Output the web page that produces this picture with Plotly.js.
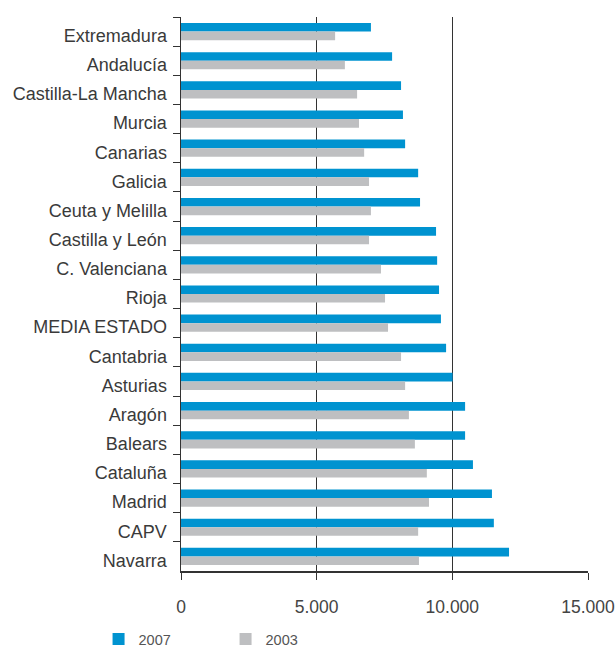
<!DOCTYPE html>
<html><head><meta charset="utf-8">
<script src="https://cdn.plot.ly/plotly-3.0.1.min.js"></script>
<style>html,body{margin:0;padding:0;background:#fff;}#chart{width:616px;height:649px;}</style>
</head><body><div id="chart"></div>
<script>
const regions = ["Extremadura","Andalucía","Castilla-La Mancha","Murcia","Canarias","Galicia","Ceuta y Melilla","Castilla y León","C. Valenciana","Rioja","MEDIA ESTADO","Cantabria","Asturias","Aragón","Balears","Cataluña","Madrid","CAPV","Navarra"];
const values2007 = [7000,7780,8110,8180,8260,8740,8810,9400,9440,9510,9580,9770,10010,10470,10470,10760,11460,11530,12090];
const values2003 = [5680,6040,6490,6560,6750,6930,7000,6930,7370,7520,7630,8110,8260,8400,8620,9060,9140,8740,8770];
const xTicks = [0,5000,10000,15000];
const xTickText = ["0","5.000","10.000","15.000"];

const data = [
  {type:'bar', orientation:'h', name:'2007', y:regions, x:values2007, marker:{color:'#0093d0'}},
  {type:'bar', orientation:'h', name:'2003', y:regions, x:values2003, marker:{color:'#bebfc1'}}
];
const layout = {
  width:616, height:649,
  margin:{l:181, r:28, t:17, b:78, autoexpand:false},
  paper_bgcolor:'#fff', plot_bgcolor:'#fff',
  barmode:'group', bargap:0.41, bargroupgap:0,
  font:{family:'Liberation Sans, Arial, sans-serif', color:'#333'},
  showlegend:true,
  legend:{orientation:'h', xref:'container', yref:'container', x:0.16, xanchor:'left', y:0.04, yanchor:'top',
          font:{size:14.5, color:'#555'}, entrywidth:82, entrywidthmode:'pixels', itemwidth:30, traceorder:'normal',
          bgcolor:'rgba(0,0,0,0)'},
  xaxis:{range:[0,15000], tickvals:xTicks, ticktext:xTickText, showgrid:true, gridcolor:'#333', gridwidth:1,
         zeroline:false, showline:true, linecolor:'#333', linewidth:1.5, ticks:'outside', ticklen:7, tickcolor:'#333',
         tickfont:{size:17.5, color:'#444'}, ticklabelstandoff:12, fixedrange:true},
  yaxis:{type:'category', autorange:'reversed', showline:true, linecolor:'#333', linewidth:1.5, ticks:'outside', ticklen:7,
         tickson:'boundaries', tickcolor:'#333', tickfont:{size:18, color:'#3a3a3a'}, ticklabelstandoff:9, ticklabelshift:-4,
         showgrid:false, fixedrange:true}
};
Plotly.newPlot('chart', data, layout, {displayModeBar:false, staticPlot:true});
</script></body></html>
